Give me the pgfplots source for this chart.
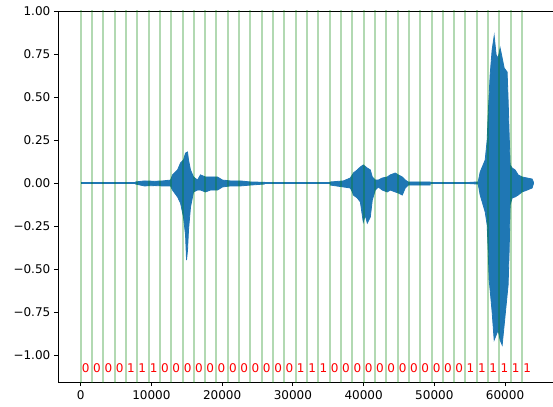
\documentclass[border=0pt]{standalone}
\usepackage{fontspec}
\setmainfont{DejaVu Sans}
\usepackage{pgfplots}
\pgfplotsset{compat=1.18}
\definecolor{wave}{RGB}{31,119,180}
\definecolor{vline}{RGB}{0,128,0}

\begin{document}
\begin{tikzpicture}
\begin{axis}[
  scale only axis, width=498bp, height=371bp,
  at={(0,0)}, anchor=south west,
  xmin=-3200, xmax=67200, ymin=-1.157, ymax=1.0,
  axis line style={line width=0.8bp},
  tick align=outside, xtick pos=left, ytick pos=left,
  major tick length=4.2bp,
  every tick/.style={black, line width=0.8bp},
  xtick={0,10000,20000,30000,40000,50000,60000},
  xticklabels={0,10000,20000,30000,40000,50000,60000},
  ytick={-1,-0.75,-0.5,-0.25,0,0.25,0.5,0.75,1},
  yticklabels={−1.00,−0.75,−0.50,−0.25,0.00,0.25,0.50,0.75,1.00},
  tick label style={font=\fontsize{12bp}{14bp}\selectfont},
  xticklabel style={inner sep=1bp, yshift=-3bp},
  unbounded coords=jump,
]
% signal baseline
\addplot[wave, line width=2.8bp] coordinates {(0,0) (64000,0)};
% burst 1
\addplot[wave, fill=wave, line width=0.8bp] coordinates {
(7770,0.006) (9000,0.012) (10500,0.010) (11580,0.012) (12710,0.017) (12990,0.047)
(13700,0.076) (14120,0.116) (14540,0.134) (14830,0.174) (15110,0.180) (15250,0.134)
(15530,0.076) (15960,0.035) (16520,0.017) (16940,0.047) (17650,0.035) (18360,0.035)
(19340,0.035) (20050,0.017) (21180,0.012) (22590,0.012) (24000,0.006) (26000,0.004)
(26000,-0.006) (24000,-0.012) (22590,-0.017) (21180,-0.017) (20050,-0.023) (19340,-0.041)
(18360,-0.041) (17650,-0.052) (16940,-0.041) (16520,-0.041) (15960,-0.052) (15530,-0.140)
(15250,-0.273) (15110,-0.390) (14970,-0.448) (14830,-0.302) (14540,-0.198) (14120,-0.116)
(13700,-0.081) (12990,-0.041) (12710,-0.017) (11580,-0.017) (10500,-0.015) (9000,-0.017)
(7770,-0.006)
} -- cycle;
% burst 2
\addplot[wave, fill=wave, line width=0.8bp] coordinates {
(35300,0.006) (37140,0.012) (38120,0.029) (38410,0.047) (38550,0.058) (39110,0.076)
(39540,0.093) (39960,0.105) (40520,0.087) (40950,0.076) (41230,0.035) (41650,0.017)
(42080,0.017) (42640,0.029) (43350,0.035) (43770,0.047) (44480,0.058) (44900,0.047)
(45470,0.035) (45890,0.017) (46310,0.006) (49420,0.006)
(49420,-0.012) (46310,-0.012) (45890,-0.029) (45470,-0.070) (44900,-0.058) (44480,-0.052)
(43770,-0.041) (43350,-0.052) (42640,-0.041) (42080,-0.023) (41650,-0.041) (41230,-0.099)
(40950,-0.198) (40520,-0.233) (40240,-0.186) (39960,-0.227) (39540,-0.110) (39110,-0.087)
(38550,-0.070) (38410,-0.052) (38120,-0.029) (37140,-0.023) (35300,-0.012)
} -- cycle;
% burst 3
\addplot[wave, fill=wave, line width=0.8bp] coordinates {
(55070,0.004) (56200,0.006) (56480,0.064) (56900,0.105) (57190,0.134) (57470,0.250)
(57610,0.395) (57750,0.512) (57890,0.628) (58170,0.773) (58460,0.855) (58740,0.744)
(59020,0.727) (59300,0.785) (59590,0.727) (59870,0.669) (60290,0.645) (60430,0.483)
(60580,0.279) (60720,0.105) (61000,0.087) (61420,0.076) (61850,0.047) (62410,0.035)
(63120,0.029) (63820,0.023) (64000,0.006)
(64000,-0.006) (63820,-0.029) (63120,-0.041) (62410,-0.052) (61850,-0.070) (61420,-0.081)
(61000,-0.087) (60720,-0.128) (60580,-0.390) (60430,-0.593) (60150,-0.709) (59870,-0.826)
(59590,-0.942) (59300,-0.913) (59020,-0.855) (58740,-0.884) (58460,-0.913) (58170,-0.750)
(57890,-0.622) (57750,-0.564) (57610,-0.390) (57470,-0.244) (57190,-0.169) (56900,-0.128)
(56480,-0.070) (56200,-0.006) (55070,-0.004)
} -- cycle;
% segment boundaries
\addplot[vline, opacity=0.3, line width=2bp] coordinates {
(0,-1.3) (0,1.1) (0,nan)
(1600,-1.3) (1600,1.1) (1600,nan)
(3200,-1.3) (3200,1.1) (3200,nan)
(4800,-1.3) (4800,1.1) (4800,nan)
(6400,-1.3) (6400,1.1) (6400,nan)
(8000,-1.3) (8000,1.1) (8000,nan)
(9600,-1.3) (9600,1.1) (9600,nan)
(11200,-1.3) (11200,1.1) (11200,nan)
(12800,-1.3) (12800,1.1) (12800,nan)
(14400,-1.3) (14400,1.1) (14400,nan)
(16000,-1.3) (16000,1.1) (16000,nan)
(17600,-1.3) (17600,1.1) (17600,nan)
(19200,-1.3) (19200,1.1) (19200,nan)
(20800,-1.3) (20800,1.1) (20800,nan)
(22400,-1.3) (22400,1.1) (22400,nan)
(24000,-1.3) (24000,1.1) (24000,nan)
(25600,-1.3) (25600,1.1) (25600,nan)
(27200,-1.3) (27200,1.1) (27200,nan)
(28800,-1.3) (28800,1.1) (28800,nan)
(30400,-1.3) (30400,1.1) (30400,nan)
(32000,-1.3) (32000,1.1) (32000,nan)
(33600,-1.3) (33600,1.1) (33600,nan)
(35200,-1.3) (35200,1.1) (35200,nan)
(36800,-1.3) (36800,1.1) (36800,nan)
(38400,-1.3) (38400,1.1) (38400,nan)
(40000,-1.3) (40000,1.1) (40000,nan)
(41600,-1.3) (41600,1.1) (41600,nan)
(43200,-1.3) (43200,1.1) (43200,nan)
(44800,-1.3) (44800,1.1) (44800,nan)
(46400,-1.3) (46400,1.1) (46400,nan)
(48000,-1.3) (48000,1.1) (48000,nan)
(49600,-1.3) (49600,1.1) (49600,nan)
(51200,-1.3) (51200,1.1) (51200,nan)
(52800,-1.3) (52800,1.1) (52800,nan)
(54400,-1.3) (54400,1.1) (54400,nan)
(56000,-1.3) (56000,1.1) (56000,nan)
(57600,-1.3) (57600,1.1) (57600,nan)
(59200,-1.3) (59200,1.1) (59200,nan)
(60800,-1.3) (60800,1.1) (60800,nan)
(62400,-1.3) (62400,1.1)
};
% bit labels
\addplot[draw=none, mark=none, nodes near coords, point meta=explicit symbolic,
  nodes near coords align={anchor=base west},
  every node near coord/.append style={inner sep=0pt, text=red,
    font=\fontsize{12bp}{14bp}\selectfont}]
  table[meta=b] {
x y b
150 -1.1 0
1750 -1.1 0
3350 -1.1 0
4950 -1.1 0
6550 -1.1 1
8150 -1.1 1
9750 -1.1 1
11350 -1.1 0
12950 -1.1 0
14550 -1.1 0
16150 -1.1 0
17750 -1.1 0
19350 -1.1 0
20950 -1.1 0
22550 -1.1 0
24150 -1.1 0
25750 -1.1 0
27350 -1.1 0
28950 -1.1 0
30550 -1.1 1
32150 -1.1 1
33750 -1.1 1
35350 -1.1 0
36950 -1.1 0
38550 -1.1 0
40150 -1.1 0
41750 -1.1 0
43350 -1.1 0
44950 -1.1 0
46550 -1.1 0
48150 -1.1 0
49750 -1.1 0
51350 -1.1 0
52950 -1.1 0
54550 -1.1 1
56150 -1.1 1
57750 -1.1 1
59350 -1.1 1
60950 -1.1 1
62550 -1.1 1
};
\end{axis}
\pgfresetboundingbox
\path[use as bounding box] (-58bp,-25bp) rectangle (495bp,382bp);
\end{tikzpicture}
\end{document}
